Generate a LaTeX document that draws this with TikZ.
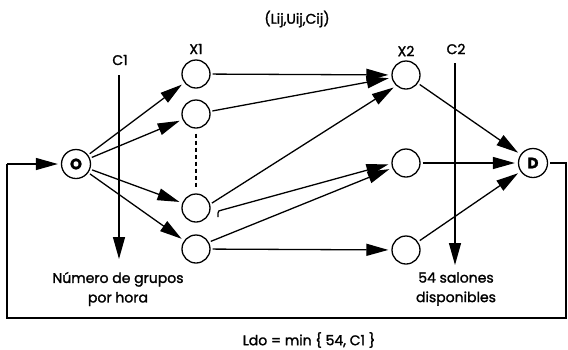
\documentclass[tikz,border=0pt]{standalone}
\usepackage{fontspec}
\setmainfont{Poppins}[FakeBold=1.6]
\usetikzlibrary{arrows.meta,calc}
\begin{document}
\begin{tikzpicture}[x=1pt,y=-1pt,
  every node/.style={font=\fontsize{14}{19.5}\selectfont},
  vertex/.style={draw, circle, line width=1.3pt, minimum size=28pt, inner sep=0pt},
  term/.style={vertex, minimum size=29pt},
  letter/.style={font=\fontsize{15}{15}\selectfont\bfseries},
  lbl/.style={inner sep=0pt, align=center},
  link/.style={line width=1.3pt, -{Triangle[length=22pt,width=12pt]}, shorten <=2pt, shorten >=3pt},
  plain/.style={line width=1.3pt}
]
\useasboundingbox (0,0) rectangle (568,349);

% nodes of the network
\node[term, letter] (o) at (76,164) {O};
\node[vertex] (a1) at (196,74) {};
\node[vertex] (a2) at (196,114) {};
\node[vertex] (a3) at (196,208) {};
\node[vertex] (a4) at (196,249) {};
\node[vertex] (b1) at (406,75) {};
\node[vertex] (b2) at (406,163) {};
\node[vertex] (b3) at (406,250) {};
\node[term, letter] (d) at (533,163) {D};

% labels
\node[lbl] (arc) at (297,19) {(Lij,Uij,Cij)};
\node[lbl] (x1) at (196,49) {X1};
\node[lbl] (x2) at (406,51) {X2};
\node[lbl] (c1) at (120,60) {C1};
\node[lbl] (c2) at (456,49) {C2};
\node[lbl] (grupos) at (118,289) {Número de grupos\\por hora};
\node[lbl] (salones) at (456,289) {54 salones\\disponibles};
\node[lbl] (ldo) at (309,340) {Ldo = min \{ 54, C1 \}};

% capacity cuts
\coordinate (c1top) at (119,75);
\coordinate (c1tip) at (119,259);
\coordinate (c2top) at (455,63);
\coordinate (c2tip) at (455,265);
\draw[link, shorten <=0pt, shorten >=0pt] (c1top) -- (c1tip);
\draw[link, shorten <=0pt, shorten >=0pt] (c2top) -- (c2tip);

% dashed continuation of the first column
\draw[plain, dash pattern=on 4pt off 3pt] ($(a2.south)+(0,5)$) -- ($(a3.north)+(0,-6)$);

% arcs from the origin
\draw[link] (o) -- (a1);
\draw[link] (o) -- (a2);
\draw[link] (o) -- (a3);
\draw[link] (o) -- (a4);

% arcs between the two columns
\draw[link] (a1) -- (b1);
\draw[link] (a2) -- (b1);
\draw[link] (a3.15) -- (b1.228);
\coordinate (hook) at (218,217);
\draw[link, shorten <=0pt] (hook) -- (218,213) .. controls (218,211) and (219,210.5) .. (222,210) -- (b2.182);
\draw[link] (a4.28) -- (b2.200);
\draw[link] (a4) -- (b3);

% arcs into the destination
\draw[link] (b1) -- (d);
\draw[link] (b2) -- (d);
\draw[link] (b3) -- (d);

% return arc from destination to origin
\coordinate (r1) at (566,163);
\coordinate (r2) at (566,318);
\coordinate (l1) at (7,318);
\coordinate (l2) at (7,164);
\draw[plain] ($(d.east)+(2,0)$) -- (r1) -- (r2) -- (l1) -- (l2);
\draw[link, shorten <=0pt] (l2) -- (o);
\end{tikzpicture}
\end{document}
